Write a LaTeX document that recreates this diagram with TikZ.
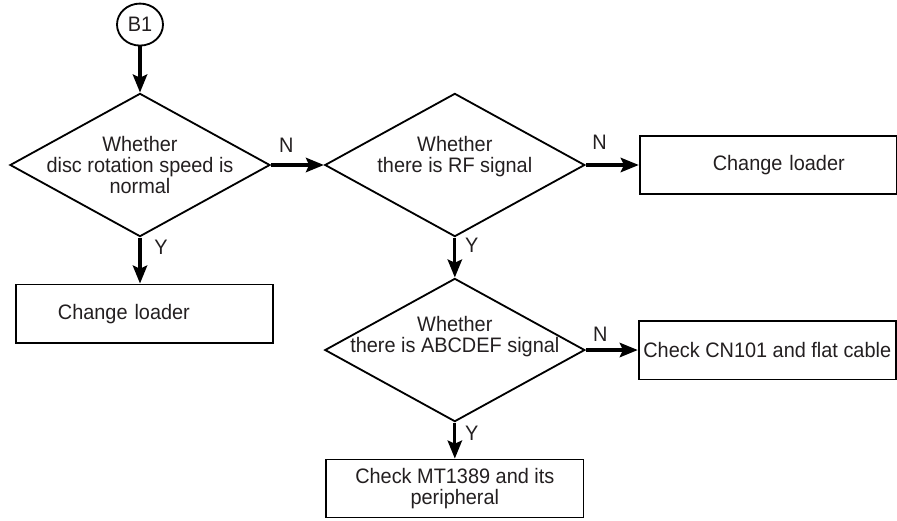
\documentclass[tikz,border=0pt]{standalone}
\usepackage{fontspec}
\setmainfont[FakeStretch=0.95]{Liberation Sans}
\usetikzlibrary{shapes.geometric,positioning,arrows.meta}
\definecolor{ink}{HTML}{231F20}
\tikzset{
  >={Stealth[length=4.5mm,width=3.6mm,inset=0.8mm]},
  every node/.style={font=\fontsize{14.9}{15}\selectfont, text=ink},
}

\begin{document}
\begin{tikzpicture}[
  node distance=1.3cm,
  flow/.style={->, line width=2.2pt, draw=black},
  decision/.style={draw, diamond, line width=1.3pt, minimum width=6.5cm, minimum height=3.58cm, inner sep=0pt},
  action/.style={draw, rectangle, line width=1.3pt, minimum width=6.43cm, minimum height=1.47cm, inner sep=0pt},
  tag/.style={inner sep=0pt, align=center}
]
\useasboundingbox (0,0) rectangle (22.425,-13.025);

% decisions
\node[decision] (D1) at (3.5,-4.125) {};
\node[tag] (D1t) at (D1) {Whether\\disc rotation speed is\\normal};
\node[decision, right=1.325cm of D1] (D2) {};
\node[tag, yshift=0.2cm] (D2t) at (D2) {Whether\\there is RF signal};
\node[decision, below=1cm of D2] (D3) {};
\node[tag, yshift=0.33cm] (D3t) at (D3) {Whether\\there is ABCDEF signal};

% start
\node[draw, ellipse, line width=1.3pt, minimum width=1.15cm, minimum height=1.05cm, inner sep=0pt, above=1.15cm of D1] (B1) {B1};

% actions
\node[action, right=1.325cm of D2, text width=3.825cm, align=right] (R1) {Change loader};
\node[action, below=1.15cm of D1, xshift=0.11cm, text width=4.325cm, align=left] (L1) {Change loader};
\node[action, right=1.3cm of D3] (CN) {Check CN101 and flat cable};
\node[action, below=0.9cm of D3, minimum height=1.45cm, align=center] (MT) {Check MT1389 and its\\peripheral};

\draw[flow] (B1) -- (D1);
\draw[flow] (D1) -- node[tag, pos=0.29, yshift=0.5cm] {N} (D2);
\draw[flow] (D2) -- node[tag, pos=0.26, yshift=0.575cm] {N} (R1);
\draw[flow] (D1.south) -- node[tag, pos=0.22, xshift=0.525cm] {Y} (D1.south |- L1.north);
\draw[flow] (D2) -- node[tag, pos=0.2, xshift=0.425cm] {Y} (D3);
\draw[flow] (D3) -- node[tag, pos=0.28, yshift=0.4cm] {N} (CN);
\draw[flow] (D3) -- node[tag, pos=0.31, xshift=0.425cm] {Y} (MT);

\end{tikzpicture}
\end{document}
